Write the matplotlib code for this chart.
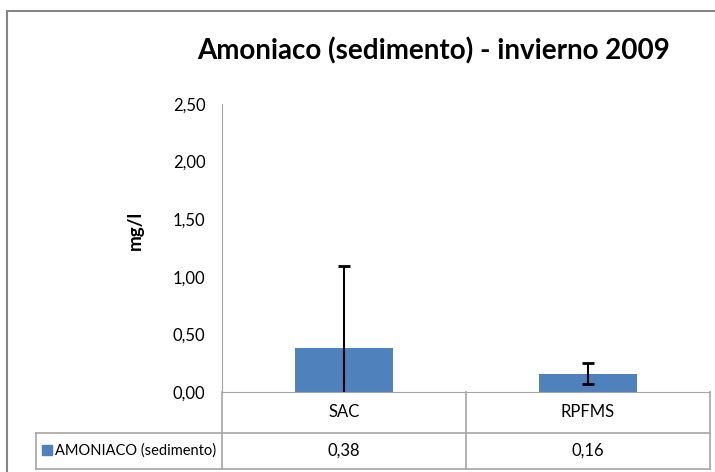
import numpy as np
import matplotlib.pyplot as plt
import matplotlib.transforms as mtransforms
from matplotlib.patches import Rectangle
from matplotlib.lines import Line2D

# datos
categories = ['SAC', 'RPFMS']
values = [0.38, 0.16]
errors = [0.71, 0.09]
value_labels = ['0,38', '0,16']
series_name = 'AMONIACO (sedimento)'
yticks = [0.0, 0.5, 1.0, 1.5, 2.0, 2.5]
ytick_labels = ['0,00', '0,50', '1,00', '1,50', '2,00', '2,50']
title = 'Amoniaco (sedimento) - invierno 2009'

plt.rcParams['font.family'] = ['Lato', 'DejaVu Sans']

W, H = 715, 472
blue = '#4F81BD'
grey = '#A6A6A6'

fig = plt.figure(figsize=(W / 100, H / 100), dpi=100)

# marco exterior
fig.add_artist(Rectangle((7 / W, -0.1), 1.0, (H - 11) / H + 0.1, transform=fig.transFigure,
                         fill=False, ec='#868686', lw=1.5))

x0, x1, y0, y1 = 222, 710, 104, 392
ax = fig.add_axes([x0 / W, (H - y1) / H, (x1 - x0) / W, (y1 - y0) / H])

x = np.arange(len(categories))
ax.bar(x, values, width=0.40, color=blue, zorder=2)
ax.errorbar(x, values, yerr=errors, fmt='none', ecolor='black', elinewidth=1.5,
            capsize=4, capthick=2, zorder=3)

ax.set_xlim(-0.5, len(categories) - 0.5)
ax.set_ylim(0, 2.5)
ax.set_yticks(yticks)
ax.set_yticklabels(ytick_labels)
ax.tick_params(axis='y', length=0, pad=12, labelsize=12)
ax.set_xticks([])
for s in ['top', 'right']:
    ax.spines[s].set_visible(False)
ax.spines['left'].set_color(grey)
ax.spines['bottom'].set_color(grey)

# tabla de datos debajo del eje
tr = mtransforms.blended_transform_factory(ax.transData, ax.transAxes)
px = (x1 - x0) / len(categories)
r1 = -(432.5 - y1) / (y1 - y0)
r2 = -(469 - y1) / (y1 - y0)
xl = -0.5 - (x0 - 36) / px


def line(xs, ys):
    ax.add_line(Line2D(xs, ys, transform=tr, color=grey, lw=1.2, clip_on=False))


for xv in np.arange(-0.5, len(categories), 1.0):
    line([xv, xv], [0, r2])
line([xl, len(categories) - 0.5], [r1, r1])
line([xl, len(categories) - 0.5], [r2, r2])
line([xl, xl], [r1, r2])

for i, c in enumerate(categories):
    ax.text(i, r1 / 2, c, transform=tr, ha='center', va='center', fontsize=12)
    ax.text(i, (r1 + r2) / 2, value_labels[i], transform=tr, ha='center', va='center',
            fontsize=12)

kx = -0.5 - (x0 - 42) / px
ax.add_patch(Rectangle((kx, (y1 - 455) / (y1 - y0)), 10 / px, 10 / (y1 - y0), transform=tr,
                       color=blue, clip_on=False))
ax.text(-0.5 - (x0 - 55) / px, (r1 + r2) / 2, series_name, transform=tr, ha='left',
        va='center', fontsize=10.5)

fig.text(135 / W, 1 - 230 / H, 'mg/l', rotation=90, ha='center', va='center',
         fontsize=13.5, fontweight='bold')
fig.text(434 / W, 1 - 51 / H, title, ha='center', va='center', fontsize=20, fontweight='bold')

fig.savefig('out.png', dpi=100)
